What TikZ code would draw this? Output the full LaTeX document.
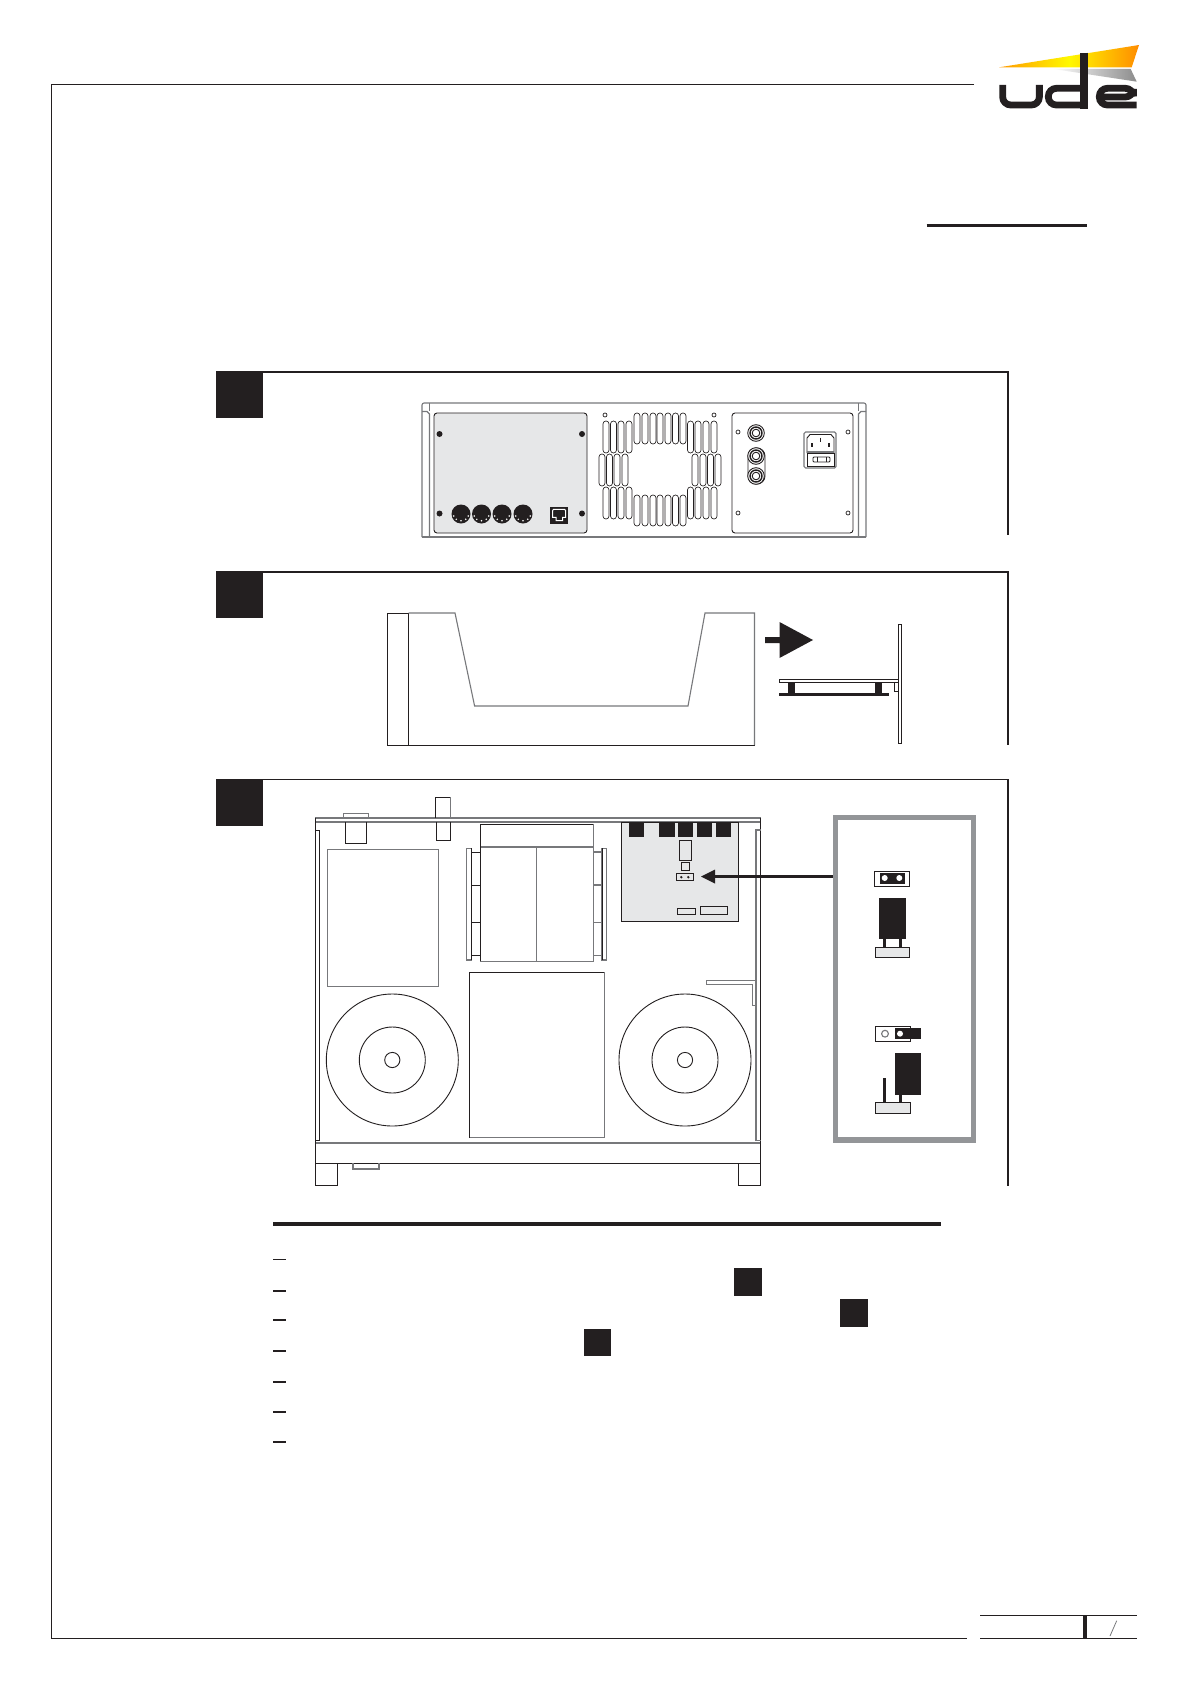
\documentclass[tikz,border=0pt]{standalone}
\definecolor{ink}{HTML}{231F20}
\definecolor{plate}{HTML}{E6E7E8}
\definecolor{frameg}{HTML}{939598}
\definecolor{lineg}{HTML}{77787B}
\tikzset{
  hair/.style={draw=ink,line width=0.45pt},
  hairg/.style={draw=lineg,line width=0.55pt},
  heavy/.style={draw=ink,line width=0.9pt},
  solid ink/.style={fill=ink,draw=none},
  vent/.style={draw=ink,line width=0.32pt,rounded corners=1.45pt},
  tinyhole/.style={draw=ink,line width=0.35pt,fill=white},
  logostroke/.style={draw=ink,line width=3.4pt,line cap=butt,rounded corners=4pt}
}
\newcommand{\ventcol}[3]{\draw[vent] (#1-3,#2) rectangle (#1+3,#3);}
\begin{document}
\begin{tikzpicture}[x=0.5pt,y=-0.5pt]
\path[use as bounding box,fill=white] (0,0) rectangle (1192,1685);

% page frame
\draw[draw=ink,line width=0.55pt] (974,84.5) -- (51.5,84.5) -- (51.5,1638.5) -- (967,1638.5);
\draw[draw=ink,line width=1.5pt] (926.5,226) -- (1087,226);

% logo
\begin{scope}[shift={(960,30)},x=0.16667pt,y=-0.16667pt]
\shade[left color=orange!80!yellow,right color=orange!90!yellow,middle color=yellow!95!orange]
  (117,112) -- (537,45) -- (515,112) -- cycle;
\shade[left color=white,right color=black!45] (280,117) -- (512,117) -- (530,155) -- cycle;
\draw[logostroke] (128,165) -- (128,225) -- (238,225) -- (238,165);
\draw[logostroke] (372,175) -- (265,175) -- (265,225) -- (372,225);
\draw[draw=ink,line width=4pt] (372,68) -- (372,236);
\draw[logostroke] (418,201) -- (520,201) -- (520,175) -- (418,175) -- (418,225) -- (530,225);
\end{scope}

% ---------- section 1
\fill[solid ink] (216,371) rectangle (263,418);
\draw[heavy] (263,372) -- (1008,372) -- (1008,535);
% rear panel
\draw[hairg,rounded corners=1pt] (422,537) -- (422,403) -- (866,403) -- (866,537);
\draw[hairg] (422,537) -- (866,537);
\draw[hairg] (422,411.5) -- (427,411.5) -- (429.5,414) -- (429.5,537);
\draw[hairg] (429.5,403) -- (429.5,411);
\draw[hairg] (866,411.5) -- (861,411.5) -- (858.5,414) -- (858.5,537);
\draw[hairg] (858.5,403) -- (858.5,411);
\draw[hair,fill=plate,rounded corners=1.5pt] (434,413) rectangle (587,533);
\draw[hair,rounded corners=1.5pt] (732,413) rectangle (853,533);
% screws
\foreach \p in {(439.5,434),(582,434),(439.5,513.5),(582,513.5)} \fill[ink] \p circle (3);
% DIN sockets
\foreach \cx in {461,481.5,502,523}{
  \fill[ink] (\cx,514) circle (9.5);
  \foreach \dx/\dy in {-7.3/2,-4.7/5.3,0/6.7,4.7/5.3,7.3/2}
    \fill[white] (\cx+\dx,514+\dy) circle (0.85);
}
% RJ socket
\fill[ink] (550,507) rectangle (568,524);
\draw[draw=white,line width=0.5pt,fill=ink] (553.5,509.3) -- (564.5,509.3) -- (565.7,510.5) -- (565.7,517.3) -- (562.7,517.3) -- (562.7,520.7) -- (556,520.7) -- (556,517.3) -- (552.7,517.3) -- (552.7,510.5) -- cycle;
% vents
\foreach \x in {637,645,653,660,668,675.5,683}{ \ventcol{\x}{413}{444} \ventcol{\x}{495}{526} }
\foreach \x in {606,613.5,621,629,690.5,698,706,714}{ \ventcol{\x}{421}{453} \ventcol{\x}{487}{519} }
\foreach \x in {602,609.5,617,625,695,703,710.5,718}{ \ventcol{\x}{454}{486} }
\draw[tinyhole] (605,415) circle (2); \draw[tinyhole] (714,415) circle (2);
\foreach \p in {(738,432),(848,432),(738,513),(848,513)} \draw[tinyhole] \p circle (2);
% jacks
\draw[hair,rounded corners=4pt] (748,448) rectangle (765,484);
\foreach \p in {(756,433),(756,456),(756,476)}{
  \draw[hair,fill=white] \p circle (8.3);
  \draw[draw=ink,line width=0.7pt] \p circle (6);
  \draw[hair] \p circle (3.8);
}
% IEC inlet
\draw[hairg,line width=0.6pt,rounded corners=0.8pt] (804,432) rectangle (836,468);
\draw[hair] (807,453) -- (807,438) -- (810,434.5) -- (831,434.5) -- (834,438) -- (834,453);
\fill[lineg] (807,451) rectangle (834,453.5);
\draw[hair] (807,453.5) rectangle (834,466);
\draw[hair,rounded corners=0.5pt] (813,457) rectangle (830,462);
\draw[hair] (817,457) -- (817,462) (826,457) -- (826,462);
\draw[draw=ink,line width=0.55pt] (812,443) -- (812,447) (820.5,437.5) -- (820.5,441.5) (829,443) -- (829,447);

% ---------- section 2
\fill[solid ink] (216,571) rectangle (263,618);
\draw[heavy] (263,572) -- (1008,572) -- (1008,745);
\draw[hair] (387,745) -- (387,613) -- (408.7,613);
\draw[hair] (408.7,613) -- (408.7,745);
\draw[hair] (387,745) -- (754.5,745);
\draw[hairg] (408.7,613) -- (455,613) -- (474.6,706) -- (688,706) -- (705,613) -- (754.5,613) -- (754.5,745);
% arrow right
\fill[solid ink] (765,637) -- (779.5,637) -- (779.5,622) -- (813,640) -- (779.5,658) -- (779.5,643) -- (765,643) -- cycle;
% side view
\draw[hair,fill=white] (898.7,624) rectangle (901.4,743);
\draw[hair,fill=white] (779.5,679) rectangle (898.7,682.5);
\fill[solid ink] (788.4,682.5) rectangle (794.6,693);
\fill[solid ink] (875,682.5) rectangle (881.5,693);
\fill[solid ink] (779,692.7) rectangle (889,696);
\draw[hair] (894.6,682.5) -- (894.6,691.7) -- (898.7,691.7);

% ---------- section 3
\fill[solid ink] (216,779) rectangle (263,826);
\draw[heavy] (263,779.5) -- (1008,779.5) -- (1008,1186);
% chassis
\draw[hairg,line width=0.9pt] (315.3,817.7) -- (760.7,817.7);
\draw[hairg,line width=0.9pt] (315.3,822) -- (760.7,822);
\draw[hairg,line width=0.9pt] (315.3,1142.7) -- (760.7,1142.7);
\draw[hair] (315.3,817.7) -- (315.3,1185) (760.7,817.7) -- (760.7,1185);
\draw[hair] (315.3,1163.3) -- (760.7,1163.3);
\draw[hair] (315.3,1185) -- (337.7,1185) -- (337.7,1163.3);
\draw[hair] (760.7,1185) -- (738,1185) -- (738,1163.3);
\draw[hairg] (353,1163.3) -- (353,1169) -- (379,1169) -- (379,1163.3);
% side rails
\draw[hair] (315.3,830) -- (319.7,830) -- (319.7,1140.7) -- (315.3,1140.7);
\draw[hairg] (760.7,830) -- (756,830) -- (756,1140.7) -- (760.7,1140.7);
% top connectors
\draw[hairg] (343.3,817.7) -- (343.3,813.3) -- (368.3,813.3) -- (368.3,817.7);
\draw[hair] (345.3,822) -- (345.3,843) -- (366.7,843) -- (366.7,822);
\draw[hair] (435.7,817.7) -- (435.7,797) -- (450.7,797);
\draw[hairg] (450.7,797) -- (450.7,817.7);
\draw[hair] (436,822) -- (436,840) -- (450,840) -- (450,822);
% rectangle A
\draw[hairg] (327.7,849.7) rectangle (438.7,986.7);
% transformer
\foreach \yy in {852,885,922.7,955.7}{
  \draw[hair] (471.7,\yy) -- (480.3,\yy);
  \draw[hairg] (593.3,\yy) -- (602,\yy);
}
\draw[hairg] (466.7,848.3) rectangle (471.7,960);
\draw[hair] (471.7,848.3) -- (471.7,960);
\draw[hairg] (602,848.3) rectangle (606.7,960);
\draw[hair] (602,848.3) -- (602,960);
\draw[hairg] (593.3,824.3) -- (593.3,961.3) -- (480.3,961.3);
\draw[hairg] (480.3,847) -- (593.3,847) (536.7,847) -- (536.7,961.3);
\draw[hair] (480.3,961.3) -- (480.3,824.3) -- (593.3,824.3);
% rectangle B
\draw[hairg] (604.3,972.3) -- (604.3,1137.7) -- (469.3,1137.7);
\draw[hair] (469.3,1137.7) -- (469.3,972.3) -- (604.3,972.3);
% toroids
\foreach \cx in {392.3,685}{
  \draw[hair] (\cx,1060) circle (66);
  \draw[hair] (\cx,1060) circle (33);
  \draw[hair] (\cx,1060) circle (7.6);
}
% bracket
\draw[hairg,line width=0.6pt] (756,980.7) -- (706.7,980.7) -- (706.7,984.3) -- (752.3,984.3) -- (752.3,1005.7) -- (756,1005.7);
% board
\draw[hair,fill=plate,line width=0.55pt] (621.3,822.3) rectangle (738.7,921.3);
\foreach \a/\b in {629/644,659.3/674.7,678.3/693,697.3/712,716/731}
  \fill[solid ink] (\a,822.3) rectangle (\b,836.7);
\draw[hair,line width=0.55pt] (679.3,840.3) rectangle (691.3,860.3);
\draw[hair,line width=0.55pt] (681.7,862.3) rectangle (689.7,870.3);
\draw[hair,line width=0.55pt] (676.3,873.7) rectangle (693.7,880.7);
\fill[ink] (681.3,877.2) circle (1.3) (688.3,877.2) circle (1.3);
\draw[hair,line width=0.55pt] (677.3,908.3) rectangle (695.7,914.7);
\draw[hair,line width=0.55pt] (700.3,906.3) rectangle (727.7,914.7);
% callout box
\draw[draw=frameg,line width=2.55pt] (835.5,817.8) rectangle (973.2,1140);
% callout arrow
\coordinate (calloutfrom) at (833,876.5);
\coordinate (callouttip) at (701,876.5);
\draw[draw=ink,line width=1.05pt] (calloutfrom) -- (713,876.5);
\fill[solid ink] (callouttip) -- (715,869.5) -- (715,883.5) -- cycle;
% jumper closed
\draw[hair,fill=white,line width=0.55pt] (874.3,871.3) rectangle (909.7,886.7);
\fill[solid ink] (880,873.3) rectangle (905,884);
\fill[white] (884.7,878) circle (3) (899.3,878) circle (3);
\fill[solid ink] (879,898) rectangle (906,938.7);
\fill[solid ink] (883,938.7) rectangle (886,947.3);
\fill[solid ink] (899,938.7) rectangle (902,947.3);
\draw[hair,fill=plate,line width=0.55pt] (875.3,947.3) rectangle (909.7,957.7);
% jumper open
\draw[hair,fill=white,line width=0.55pt] (875.3,1026.3) rectangle (910.7,1041.7);
\draw[hairg,fill=white] (885,1033.7) circle (3.4);
\fill[solid ink] (895,1028) rectangle (921,1039);
\fill[white] (900,1033.7) circle (3);
\fill[solid ink] (895,1053) rectangle (921,1094.7);
\fill[solid ink] (899,1094.7) rectangle (902,1102.3);
\fill[solid ink] (883,1078) rectangle (886,1102.3);
\draw[hair,fill=plate,line width=0.55pt] (875.3,1102.3) rectangle (910.7,1113.3);

% ---------- list
\fill[solid ink] (273,1222) rectangle (941,1226);
\draw[draw=ink,line width=0.55pt] (273,1259.3) -- (286,1259.3);
\foreach \yy in {1291,1320,1351,1382,1412,1442}
  \draw[draw=ink,line width=0.85pt] (273,\yy) -- (286,\yy);
\fill[solid ink] (734,1268) rectangle (762,1296);
\fill[solid ink] (840,1299) rectangle (868,1327);
\fill[solid ink] (584,1329) rectangle (611,1356);

% ---------- footer
\draw[draw=ink,line width=0.55pt] (980,1615.3) -- (1136.7,1615.3);
\draw[draw=ink,line width=0.55pt] (980,1638.3) -- (1136.7,1638.3);
\fill[solid ink] (1083,1615.3) rectangle (1087,1638.3);
\draw[draw=lineg,line width=0.4pt] (1116.7,1620.7) -- (1110,1636);
\end{tikzpicture}
\end{document}
